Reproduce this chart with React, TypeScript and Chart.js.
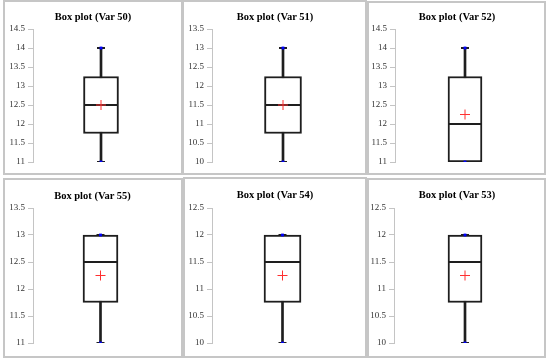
import React, { useEffect, useRef } from "react";
import { Chart, registerables } from "chart.js";

Chart.register(...registerables);

// ---- data ----
const titles = [
  "Box plot (Var 50)",
  "Box plot (Var 51)",
  "Box plot (Var 52)",
  "Box plot (Var 55)",
  "Box plot (Var 54)",
  "Box plot (Var 53)",
];
const categories = ["Var 50", "Var 51", "Var 52", "Var 55", "Var 54", "Var 53"];
const mins = [11, 10, 11, 11, 10, 10];
const q1s = [11.75, 10.75, 11, 11.75, 10.75, 10.75];
const medians = [12.5, 11.5, 12, 12.5, 11.5, 11.5];
const q3s = [13.25, 12.25, 13.25, 13, 12, 12];
const maxs = [14, 13, 14, 13, 12, 12];
const means = [12.5, 11.5, 12.25, 12.25, 11.25, 11.25];
const axisMins = [11, 10, 11, 11, 10, 10];
const axisMaxs = [14.5, 13.5, 14.5, 13.5, 12.5, 12.5];
const axisStep = 0.5;

// ---- layout (positions only) ----
type Panel = {
  border: [number, number, number, number];
  canvas: [number, number, number, number];
  padT: number;
  padR: number;
  padB: number;
  yW: number;
  box: number;
  title: [number, number];
};
const panels: Panel[] = [
  { border: [3, 0, 180, 175], canvas: [4, 3, 178, 171], padT: 26, padR: 13, padB: 12, yW: 29, box: 35, title: [93, 17] },
  { border: [182, 0, 185, 175], canvas: [184, 3, 182, 171], padT: 26, padR: 12, padB: 12, yW: 28, box: 37, title: [275, 17] },
  { border: [367, 1, 179, 174], canvas: [369, 3, 176, 171], padT: 26, padR: 10, padB: 12, yW: 26, box: 34, title: [457, 17] },
  { border: [3, 178, 180, 180], canvas: [4, 180, 178, 176], padT: 28, padR: 14, padB: 13, yW: 29, box: 35, title: [92.5, 195.5] },
  { border: [183, 177, 184, 181], canvas: [184, 180, 181, 176], padT: 28, padR: 12, padB: 13, yW: 28, box: 37, title: [275, 194.5] },
  { border: [367, 178, 179, 180], canvas: [369, 180, 176, 176], padT: 28, padR: 9, padB: 13, yW: 25, box: 34, title: [457, 195] },
];

const INK = "#1e1e1e";

export default function App() {
  const refs = useRef<(HTMLCanvasElement | null)[]>([]);

  useEffect(() => {
    const charts: Chart[] = [];
    panels.forEach((p, i) => {
      const cv = refs.current[i];
      if (!cv) return;
      const cat = categories[i];
      const chart = new Chart(cv, {
        type: "bar",
        data: {
          labels: [cat],
          datasets: [
            {
              type: "bar",
              data: [[mins[i], maxs[i]]] as any,
              backgroundColor: INK,
              barThickness: 2,
              grouped: false,
              order: 6,
            } as any,
            {
              type: "bar",
              data: [[q1s[i], q3s[i]]] as any,
              backgroundColor: "#ffffff",
              borderColor: INK,
              borderWidth: 2,
              borderSkipped: false,
              barThickness: p.box,
              grouped: false,
              order: 5,
            } as any,
            {
              type: "line",
              data: [{ x: cat, y: medians[i] }],
              showLine: false,
              pointStyle: "line",
              pointRadius: p.box / 2 - 1,
              pointBorderWidth: 2,
              borderColor: INK,
              backgroundColor: INK,
              order: 4,
            } as any,
            {
              type: "line",
              data: [
                { x: cat, y: mins[i] },
                { x: cat, y: maxs[i] },
              ],
              showLine: false,
              pointStyle: "line",
              pointRadius: 4,
              pointBorderWidth: 2,
              borderColor: INK,
              backgroundColor: INK,
              order: 3,
            } as any,
            {
              type: "line",
              data: [
                { x: cat, y: mins[i] },
                { x: cat, y: maxs[i] },
              ],
              showLine: false,
              pointStyle: "rect",
              pointRadius: 2,
              pointBorderWidth: 0,
              borderColor: "#0000ff",
              backgroundColor: "#0000ff",
              order: 2,
            } as any,
            {
              type: "line",
              data: [{ x: cat, y: means[i] }],
              showLine: false,
              pointStyle: "cross",
              pointRadius: 5,
              pointBorderWidth: 1,
              borderColor: "#ff3030",
              backgroundColor: "#ff3030",
              order: 1,
            } as any,
          ],
        },
        options: {
          responsive: false,
          animation: false,
          devicePixelRatio: 1,
          layout: { autoPadding: false, padding: { left: 0, right: p.padR, top: p.padT, bottom: p.padB } },
          plugins: {
            legend: { display: false },
            tooltip: { enabled: false },
            title: { display: false },
          },
          scales: {
            x: { display: false },
            y: {
              min: axisMins[i],
              max: axisMaxs[i],
              afterFit: (s: any) => {
                s.width = p.yW;
              },
              ticks: {
                stepSize: axisStep,
                color: "#333333",
                padding: 3,
                font: { family: "'Liberation Serif', serif", size: 9 },
                callback: (v: any) => String(Math.round(Number(v) * 100) / 100),
              },
              grid: {
                drawOnChartArea: false,
                drawTicks: true,
                tickLength: 5,
                color: "#c4c4c4",
              },
              border: { display: true, color: "#c4c4c4", width: 1 },
            },
          },
        } as any,
      });
      charts.push(chart);
    });
    return () => charts.forEach((c) => c.destroy());
  }, []);

  return (
    <div style={{ position: "absolute", left: 0, top: 0, width: 550, height: 358, background: "#ffffff", overflow: "hidden" }}>
      {panels.map((p, i) => (
        <div
          key={"b" + i}
          style={{
            position: "absolute",
            left: p.border[0],
            top: p.border[1],
            width: p.border[2],
            height: p.border[3],
            border: "2px solid #c6c6c6",
            boxSizing: "border-box",
          }}
        />
      ))}
      {panels.map((p, i) => (
        <canvas
          key={"c" + i}
          ref={(el) => {
            refs.current[i] = el;
          }}
          width={p.canvas[2]}
          height={p.canvas[3]}
          style={{
            position: "absolute",
            left: p.canvas[0],
            top: p.canvas[1],
            width: p.canvas[2],
            height: p.canvas[3],
          }}
        />
      ))}
      {panels.map((p, i) => (
        <div
          key={"t" + i}
          style={{
            position: "absolute",
            left: p.title[0] - 70,
            top: p.title[1] - 7,
            width: 140,
            height: 14,
            lineHeight: "14px",
            textAlign: "center",
            fontFamily: "'Liberation Serif', serif",
            fontWeight: "bold",
            fontSize: 10.5,
            color: "#000000",
            whiteSpace: "nowrap",
          }}
        >
          {titles[i]}
        </div>
      ))}
    </div>
  );
}
